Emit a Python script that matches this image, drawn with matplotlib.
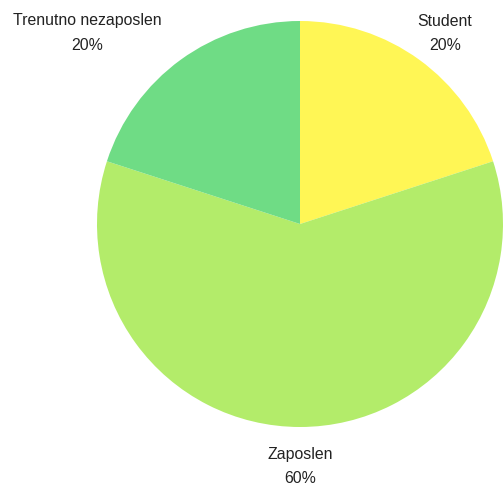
import numpy
from matplotlib import pyplot as plt

plt.rcParams['font.family'] = ['Liberation Sans', 'DejaVu Sans']

categories = ['Student', 'Zaposlen', 'Trenutno nezaposlen']
shares = [20, 60, 20]
colors = ['#fff655', '#b3ec6a', '#6fdc85']

fig = plt.figure(figsize=(5.03, 4.85), dpi=100)
ax = fig.add_axes([0, 0, 1, 1])

labels = ['{}\n{}%'.format(c, s) for c, s in zip(categories, shares)]
wedges, texts = ax.pie(shares, labels=labels, colors=colors, startangle=90,
                       counterclock=False, center=(300, 260), radius=203,
                       labeldistance=1.19, frame=True,
                       wedgeprops=dict(linewidth=0),
                       textprops=dict(fontsize=11.4, color='#222222',
                                      ha='center', va='center',
                                      linespacing=1.75))
ax.set_xlim(0, 503)
ax.set_ylim(0, 485)
ax.set_aspect('equal')
ax.axis('off')
# top labels sit side by side at the same height
texts[0].set_position((445, 452))
texts[2].set_position((87, 452))

fig.savefig('out.png', dpi=100)
